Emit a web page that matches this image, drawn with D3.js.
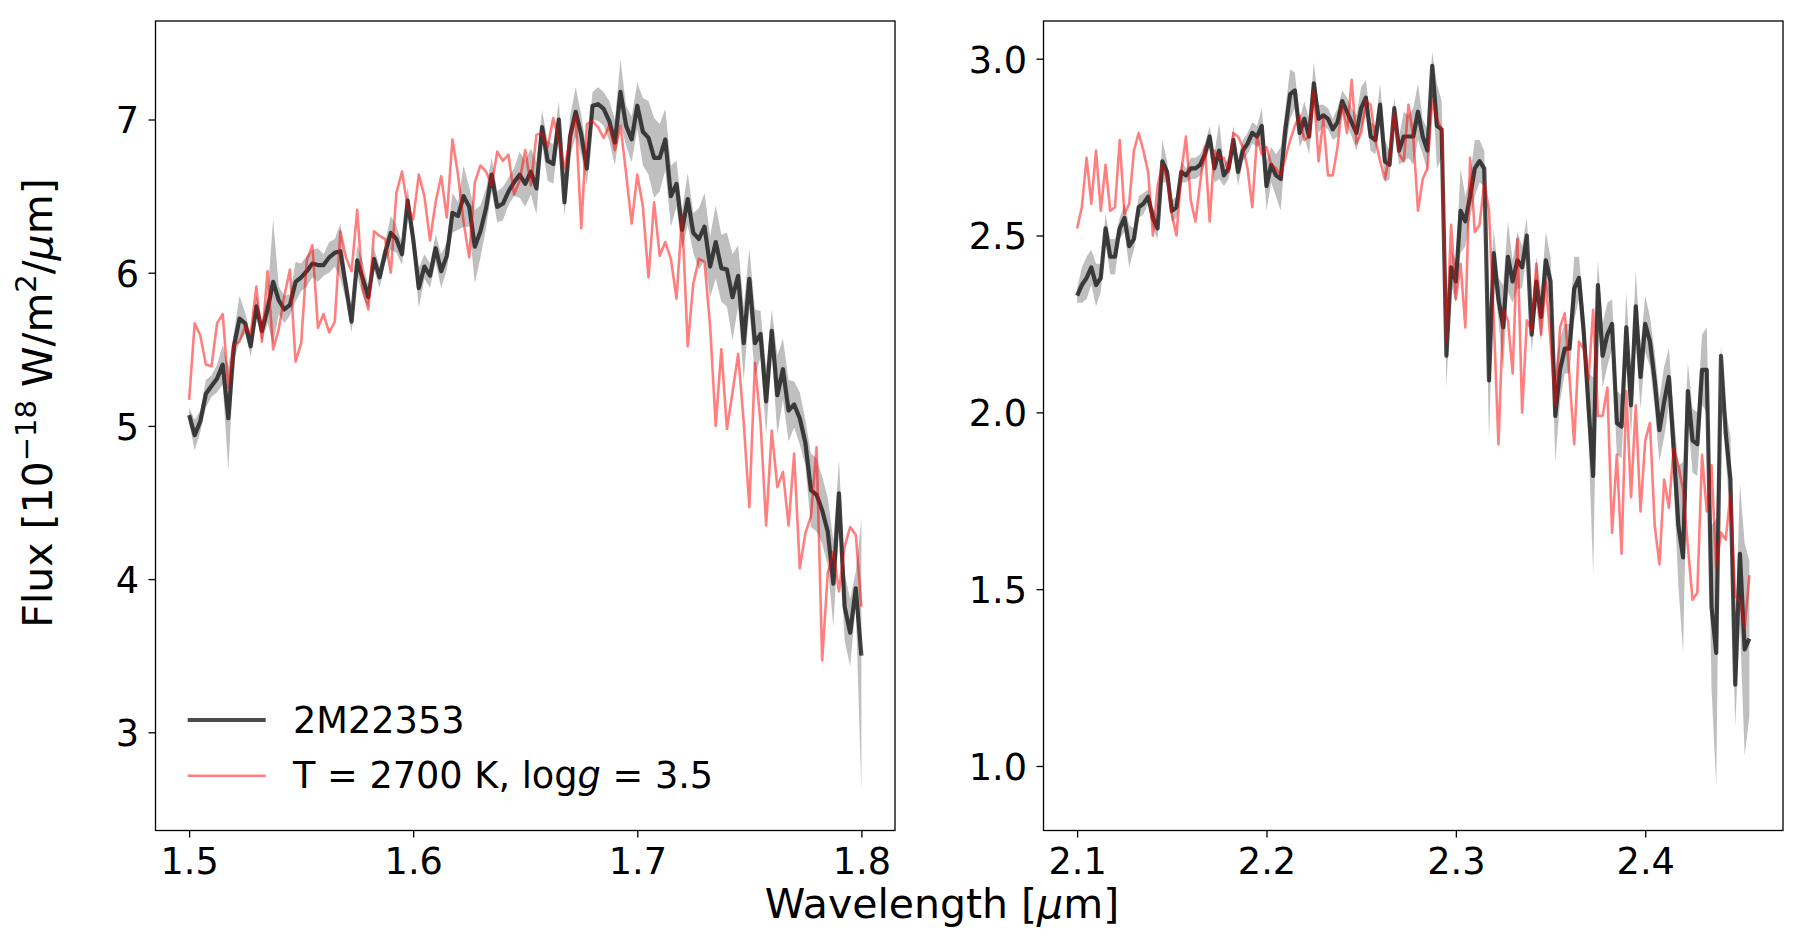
<!DOCTYPE html>
<html><head><meta charset="utf-8">
<script src="https://cdn.jsdelivr.net/npm/d3@7"></script>
<style>body{margin:0;background:#fff}svg{display:block}text{font-family:"DejaVu Sans",sans-serif}</style>
</head><body><svg id="c" width="1806" height="946"></svg>
<script>
// ---------- H band (left panel) ----------
const wlH = [
1.5,1.5025,1.505,1.5075,1.51,1.5125,1.515,1.5175,1.52,1.5225,
1.525,1.5275,1.53,1.5325,1.535,1.5375,1.54,1.5425,1.545,1.5475,
1.55,1.5525,1.555,1.5575,1.56,1.5625,1.565,1.5675,1.57,1.5725,
1.575,1.5775,1.58,1.5825,1.585,1.5875,1.59,1.5925,1.595,1.5975,
1.6,1.6025,1.605,1.6075,1.61,1.6125,1.615,1.6175,1.62,1.6225,
1.625,1.6275,1.63,1.6325,1.635,1.6375,1.64,1.6425,1.645,1.6475,
1.65,1.6525,1.655,1.6575,1.66,1.6625,1.665,1.6675,1.67,1.6725,
1.675,1.6775,1.68,1.6825,1.685,1.6875,1.69,1.6925,1.695,1.6975,
1.7,1.7025,1.705,1.7075,1.71,1.7125,1.715,1.7175,1.72,1.7225,
1.725,1.7275,1.73,1.7325,1.735,1.7375,1.74,1.7425,1.745,1.7475,
1.75,1.7525,1.755,1.7575,1.76,1.7625,1.765,1.7675,1.77,1.7725,
1.775,1.7775,1.78,1.7825,1.785,1.7875,1.79,1.7925,1.795,1.7975,
1.8];
const fluxH = [
5.07,4.94,5.03,5.21,5.26,5.31,5.40,5.05,5.52,5.70,
5.67,5.52,5.78,5.62,5.76,5.94,5.82,5.76,5.79,5.94,
5.97,6.01,6.06,6.05,6.05,6.10,6.13,6.14,5.91,5.68,
6.08,5.96,5.84,6.09,5.97,6.13,6.26,6.22,6.12,6.47,
6.22,5.90,6.04,5.98,6.16,6.01,6.11,6.39,6.37,6.50,
6.43,6.17,6.27,6.42,6.64,6.43,6.45,6.53,6.59,6.64,
6.58,6.66,6.55,6.95,6.73,6.71,7.00,6.46,6.89,7.05,
6.90,6.68,7.09,7.10,7.07,6.99,6.85,7.18,6.96,6.87,
7.09,6.92,6.88,6.75,6.75,6.87,6.50,6.58,6.28,6.48,
6.26,6.22,6.30,6.04,6.20,6.03,6.02,5.84,5.98,5.54,
5.96,5.54,5.60,5.16,5.62,5.20,5.37,5.10,5.14,5.05,
4.89,4.58,4.55,4.45,4.31,3.97,4.56,3.82,3.65,3.94,
3.50];
const errH = [
0.05,0.10,0.07,0.09,0.07,0.09,0.13,0.34,0.09,0.15,
0.07,0.07,0.07,0.07,0.09,0.41,0.09,0.09,0.07,0.13,
0.09,0.10,0.09,0.11,0.07,0.10,0.09,0.18,0.09,0.07,
0.10,0.11,0.07,0.07,0.07,0.07,0.11,0.09,0.07,0.09,
0.09,0.13,0.08,0.08,0.09,0.11,0.09,0.13,0.09,0.20,
0.13,0.24,0.17,0.13,0.11,0.10,0.11,0.09,0.09,0.15,
0.15,0.15,0.17,0.11,0.13,0.13,0.12,0.09,0.13,0.16,
0.13,0.11,0.09,0.11,0.11,0.13,0.15,0.21,0.13,0.15,
0.15,0.22,0.24,0.26,0.22,0.20,0.20,0.15,0.13,0.17,
0.13,0.20,0.22,0.20,0.24,0.22,0.24,0.28,0.20,0.24,
0.20,0.22,0.15,0.22,0.14,0.26,0.20,0.20,0.15,0.17,
0.15,0.24,0.24,0.22,0.22,0.28,0.22,0.22,0.22,0.11,
0.89];
const modelH = [
5.17,5.67,5.59,5.40,5.39,5.67,5.73,5.25,5.53,5.55,
5.65,5.60,5.91,5.55,6.01,5.50,5.63,5.85,6.02,5.42,
5.54,6.08,6.18,5.64,5.73,5.61,5.68,6.27,6.10,6.01,
6.41,5.89,5.76,6.27,6.24,6.22,6.00,6.52,6.66,6.43,
6.35,6.64,6.50,6.21,6.46,6.63,6.36,6.87,6.64,6.33,
6.10,6.59,6.70,6.66,6.57,6.79,6.73,6.77,6.51,6.60,
6.80,6.57,6.90,6.91,6.82,7.01,6.86,6.68,6.87,7.02,
6.29,6.97,6.99,6.95,6.88,6.96,6.80,6.96,6.65,6.32,
6.64,6.43,5.97,6.46,6.11,6.20,6.09,5.83,6.38,5.52,
5.93,6.09,6.07,5.65,5.00,5.50,4.98,5.22,5.47,5.02,
4.47,5.41,5.02,4.35,4.97,4.60,4.70,4.35,4.82,4.07,
4.30,4.41,4.86,3.47,4.04,4.18,3.92,4.21,4.34,4.29,
3.82];

// ---------- K band (right panel) ----------
const wlK = [
2.1,2.1025,2.105,2.1075,2.11,2.1125,2.115,2.1175,2.12,2.1225,
2.125,2.1275,2.13,2.1325,2.135,2.1375,2.14,2.1425,2.145,2.1475,
2.15,2.1525,2.155,2.1575,2.16,2.1625,2.165,2.1675,2.17,2.1725,
2.175,2.1775,2.18,2.1825,2.185,2.1875,2.19,2.1925,2.195,2.1975,
2.2,2.2025,2.205,2.2075,2.21,2.2125,2.215,2.2175,2.22,2.2225,
2.225,2.2275,2.23,2.2325,2.235,2.2375,2.24,2.2425,2.245,2.2475,
2.25,2.2525,2.255,2.2575,2.26,2.2625,2.265,2.2675,2.27,2.2725,
2.275,2.2775,2.28,2.2825,2.285,2.2875,2.29,2.2925,2.295,2.2975,
2.3,2.3025,2.305,2.3075,2.31,2.3125,2.315,2.3175,2.32,2.3225,
2.325,2.3275,2.33,2.3325,2.335,2.3375,2.34,2.3425,2.345,2.3475,
2.35,2.3525,2.355,2.3575,2.36,2.3625,2.365,2.3675,2.37,2.3725,
2.375,2.3775,2.38,2.3825,2.385,2.3875,2.39,2.3925,2.395,2.3975,
2.4,2.4025,2.405,2.4075,2.41,2.4125,2.415,2.4175,2.42,2.4225,
2.425,2.4275,2.43,2.4325,2.435,2.4375,2.44,2.4425,2.445,2.4475,
2.45,2.4525,2.455];
const fluxK = [
2.33,2.36,2.38,2.41,2.36,2.38,2.52,2.44,2.44,2.52,
2.55,2.47,2.49,2.58,2.59,2.61,2.55,2.52,2.71,2.68,
2.57,2.58,2.68,2.67,2.69,2.69,2.70,2.73,2.78,2.69,
2.74,2.67,2.69,2.77,2.68,2.74,2.76,2.79,2.78,2.81,
2.64,2.70,2.67,2.66,2.80,2.90,2.91,2.79,2.83,2.78,
2.93,2.83,2.84,2.83,2.80,2.82,2.88,2.85,2.82,2.79,
2.86,2.89,2.78,2.77,2.87,2.71,2.70,2.86,2.74,2.78,
2.78,2.78,2.85,2.78,2.74,2.98,2.81,2.80,2.16,2.41,
2.37,2.57,2.54,2.61,2.69,2.71,2.69,2.09,2.45,2.32,
2.24,2.44,2.37,2.43,2.41,2.50,2.22,2.37,2.27,2.43,
2.37,1.99,2.12,2.18,2.18,2.35,2.38,2.23,2.02,1.82,
2.36,2.16,2.22,2.25,1.97,1.96,2.24,2.02,2.30,2.10,
2.25,2.20,2.09,1.95,2.03,2.10,1.90,1.68,1.59,2.06,
1.92,1.91,2.12,2.12,1.45,1.32,2.16,1.94,1.81,1.23,
1.60,1.33,1.36];
const errK = [
0.02,0.05,0.06,0.05,0.06,0.04,0.04,0.05,0.05,0.03,
0.04,0.06,0.03,0.03,0.03,0.02,0.03,0.03,0.06,0.03,
0.03,0.03,0.03,0.02,0.03,0.03,0.03,0.03,0.03,0.04,
0.08,0.03,0.03,0.04,0.04,0.03,0.03,0.03,0.03,0.05,
0.07,0.05,0.06,0.09,0.06,0.07,0.05,0.04,0.05,0.05,
0.06,0.04,0.03,0.03,0.03,0.04,0.03,0.04,0.04,0.05,
0.06,0.05,0.04,0.04,0.06,0.06,0.04,0.03,0.04,0.07,
0.06,0.08,0.08,0.05,0.06,0.04,0.12,0.08,0.09,0.05,
0.06,0.12,0.07,0.06,0.08,0.06,0.05,0.17,0.07,0.06,
0.12,0.10,0.06,0.08,0.06,0.05,0.05,0.07,0.07,0.08,
0.07,0.13,0.09,0.07,0.07,0.09,0.06,0.07,0.09,0.28,
0.07,0.09,0.09,0.07,0.09,0.09,0.10,0.09,0.10,0.09,
0.08,0.07,0.08,0.09,0.10,0.08,0.10,0.17,0.27,0.08,
0.09,0.09,0.10,0.12,0.23,0.38,0.03,0.07,0.12,0.12,
0.20,0.30,0.22];
const modelK = [
2.52,2.58,2.72,2.59,2.74,2.57,2.70,2.57,2.58,2.77,
2.56,2.59,2.74,2.79,2.74,2.68,2.50,2.64,2.70,2.66,
2.56,2.50,2.68,2.78,2.60,2.54,2.65,2.75,2.54,2.74,
2.72,2.72,2.68,2.79,2.78,2.75,2.69,2.58,2.78,2.73,
2.75,2.70,2.69,2.67,2.72,2.77,2.81,2.84,2.77,2.78,
2.91,2.71,2.83,2.67,2.67,2.75,2.87,2.79,2.94,2.76,
2.79,2.88,2.87,2.77,2.71,2.66,2.73,2.85,2.73,2.71,
2.87,2.78,2.57,2.66,2.69,2.88,2.83,2.80,2.20,2.53,
2.32,2.42,2.24,2.72,2.51,2.53,2.65,2.57,2.26,1.91,
2.29,2.26,2.11,2.49,2.00,2.26,2.23,2.42,2.22,2.37,
2.20,2.02,2.24,2.28,2.10,1.91,2.20,2.18,2.09,2.29,
1.99,1.99,2.07,1.66,1.88,1.60,2.06,1.76,2.02,1.72,
1.92,1.97,1.68,1.57,1.81,1.73,1.90,1.85,1.78,1.62,
1.47,1.49,1.88,1.72,1.85,1.56,1.66,1.64,1.77,1.48,
1.47,1.39,1.54];

// ---------- axes / labels ----------
const xTicksH = [1.5, 1.6, 1.7, 1.8];
const yTicksH = [3, 4, 5, 6, 7];
const yLimH = [2.359, 7.643];
const xTicksK = [2.1, 2.2, 2.3, 2.4];
const yTicksK = [1.0, 1.5, 2.0, 2.5, 3.0];
const yLimK = [0.8176, 3.1066];
const legendObj = "2M22353";
const legendModel = ["T = 2700 K, log", "g", " = 3.5"];

const svg = d3.select('#c');
svg.append('rect').attr('width', 1806).attr('height', 946).attr('fill', '#fff');
const TOP = 21, BOTTOM = 830.5;
const FS = 36.67;

const panels = [
  {wl: wlH, flux: fluxH, err: errH, model: modelH, left: 155.5, right: 895,
   yLim: yLimH, yTicks: yTicksH, xTicks: xTicksH, yFmt: d3.format('d')},
  {wl: wlK, flux: fluxK, err: errK, model: modelK, left: 1043.5, right: 1783,
   yLim: yLimK, yTicks: yTicksK, xTicks: xTicksK, yFmt: d3.format('.1f')}
];

panels.forEach((p, k) => {
  const [a, b] = d3.extent(p.wl);
  const m = (b - a) * 0.05;
  const x = d3.scaleLinear().domain([a - m, b + m]).range([p.left, p.right]);
  const y = d3.scaleLinear().domain(p.yLim).range([BOTTOM, TOP]);
  const g = svg.append('g');
  const clipId = 'clip' + k;
  g.append('clipPath').attr('id', clipId).append('rect')
    .attr('x', p.left).attr('y', TOP).attr('width', p.right - p.left).attr('height', BOTTOM - TOP);
  const pts = p.wl.map((w, i) => ({w, f: p.flux[i], e: p.err[i], m: p.model[i]}));
  const plot = g.append('g').attr('clip-path', `url(#${clipId})`);
  plot.append('path').datum(pts)
    .attr('d', d3.area().x(d => x(d.w)).y0(d => y(d.f - d.e)).y1(d => y(d.f + d.e)))
    .attr('fill', '#000').attr('fill-opacity', 0.25);
  plot.append('path').datum(pts)
    .attr('d', d3.line().x(d => x(d.w)).y(d => y(d.f)))
    .attr('fill', 'none').attr('stroke', '#000').attr('stroke-opacity', 0.7)
    .attr('stroke-width', 4.2).attr('stroke-linejoin', 'round');
  plot.append('path').datum(pts)
    .attr('d', d3.line().x(d => x(d.w)).y(d => y(d.m)))
    .attr('fill', 'none').attr('stroke', '#f00').attr('stroke-opacity', 0.5)
    .attr('stroke-width', 2.6).attr('stroke-linejoin', 'round');

  const xa = g.append('g').attr('transform', `translate(0,${BOTTOM})`)
    .call(d3.axisBottom(x).tickValues(p.xTicks).tickFormat(d3.format('.1f'))
      .tickSizeOuter(0).tickSize(7).tickPadding(10));
  const ya = g.append('g').attr('transform', `translate(${p.left},0)`)
    .call(d3.axisLeft(y).tickValues(p.yTicks).tickFormat(p.yFmt)
      .tickSizeOuter(0).tickSize(7).tickPadding(9.5));
  [xa, ya].forEach(ax => {
    ax.select('.domain').remove();
    ax.selectAll('line').attr('stroke', '#000').attr('stroke-width', 1.3);
    ax.selectAll('text').attr('font-size', FS).attr('font-family', 'DejaVu Sans').attr('fill', '#000');
  });
  ya.selectAll('text').attr('dy', '0.365em');
  g.append('rect').attr('x', p.left).attr('y', TOP)
    .attr('width', p.right - p.left).attr('height', BOTTOM - TOP)
    .attr('fill', 'none').attr('stroke', '#000').attr('stroke-width', 1.3);
});

// legend
const lg = svg.append('g');
lg.append('line').attr('x1', 187.7).attr('x2', 265.7).attr('y1', 720).attr('y2', 720)
  .attr('stroke', '#000').attr('stroke-opacity', 0.7).attr('stroke-width', 4.2);
lg.append('line').attr('x1', 187.7).attr('x2', 265.7).attr('y1', 775.7).attr('y2', 775.7)
  .attr('stroke', '#f00').attr('stroke-opacity', 0.5).attr('stroke-width', 2.6);
lg.append('text').attr('x', 293).attr('y', 733.3).attr('font-size', FS).text(legendObj);
const t2 = lg.append('text').attr('x', 293).attr('y', 788.3).attr('font-size', FS);
t2.append('tspan').text(legendModel[0]);
t2.append('tspan').attr('font-style', 'italic').text(legendModel[1]);
t2.append('tspan').text(legendModel[2]);

// axis labels
const xl = svg.append('text').attr('x', 942).attr('y', 918.3)
  .attr('text-anchor', 'middle').attr('font-size', 41);
xl.append('tspan').text('Wavelength [');
xl.append('tspan').attr('font-style', 'italic').text('μ');
xl.append('tspan').text('m]');

const yl = svg.append('text').attr('transform', 'translate(52.3,403) rotate(-90)')
  .attr('text-anchor', 'middle').attr('font-size', 41);
yl.append('tspan').text('Flux [10');
yl.append('tspan').attr('font-size', 29).attr('dy', -16).text('−18');
yl.append('tspan').attr('dy', 16).text(' W/m');
yl.append('tspan').attr('font-size', 29).attr('dy', -16).text('2');
yl.append('tspan').attr('dy', 16).text('/');
yl.append('tspan').attr('font-style', 'italic').text('μ');
yl.append('tspan').text('m]');
</script>
</body></html>
